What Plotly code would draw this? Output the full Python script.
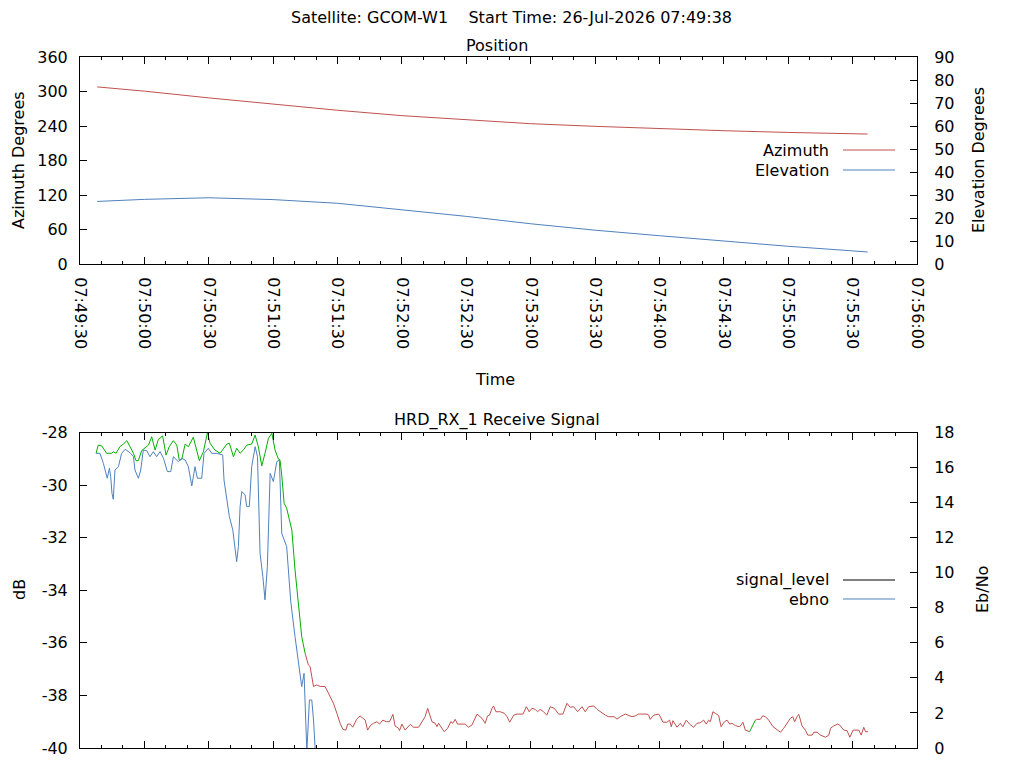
import pandas as pd
import plotly.graph_objects as go

# time axis origin (seconds below are counted from here)
AXIS_START = pd.Timestamp("2026-07-26 07:49:30")
AXIS_END = pd.Timestamp("2026-07-26 07:56:00")

# --- Position (azimuth / elevation) ---
pos_sec = [8, 30, 60, 90, 120, 150, 180, 210, 240, 270, 300, 330, 360, 367]
azimuth = [308.0, 300.6, 288.9, 277.9, 267.4, 258.0, 250.5, 244.0, 239.4, 235.3, 231.8, 228.8, 226.5, 226.0]
elevation = [27.2, 28.1, 28.8, 28.0, 26.4, 23.7, 20.7, 17.5, 14.7, 12.3, 9.9, 7.7, 5.7, 5.2]

# --- Receive signal level (dB) ---
sig_sec = [7.5, 8.5, 10.1, 12.4, 14.8, 15.5, 16.8, 18.6, 20.2, 21.8, 23.3, 24.9, 26.1, 27.2,
           28.7, 30.3, 31.9, 33.4, 35.0, 36.5, 38.5, 40.1, 41.6, 43.5, 45.1, 46.3, 47.4, 49.0,
           50.5, 52.8, 55.6, 57.5, 59.4, 60.6, 62.9, 65.3, 68.4, 69.6, 71.5, 73.0, 74.6, 76.1,
           77.7, 80.0, 81.6, 83.1, 84.7, 86.2, 87.8, 89.4, 90.9, 92.5, 93.2, 94.0, 95.1, 96.3,
           97.6, 98.7, 100.2, 101.8, 103.3, 104.9, 106.4, 107.2, 108.8, 110.3, 111.9, 114.2, 115.8,
           118.1, 119.7, 121.2, 122.5, 123.9, 124.7, 125.9, 127.1, 128.9, 130.5, 132.1, 132.9,
           134.0, 135.5, 136.8, 138.3, 139.6, 141.1, 142.7, 144.2, 145.8, 146.8, 148.4, 148.9,
           150.0, 151.5, 153.9, 155.4, 157.8, 159.3, 160.8, 162.0, 162.9, 164.0, 165.5, 166.3,
           167.1, 168.6, 169.7, 171.3, 172.8, 173.7, 174.8, 175.9, 177.5, 179.5, 181.0, 182.6,
           183.7, 185.0, 187.3, 188.8, 189.9, 190.8, 192.0, 192.7, 193.8, 195.8, 197.7, 199.0,
           200.2, 202.1, 203.6, 206.4, 208.0, 209.3, 210.6, 212.1, 213.2, 214.4, 216.0, 217.5,
           219.1, 221.0, 223.0, 225.0, 226.9, 228.4, 230.0, 231.9, 233.9, 235.4, 237.0, 239.4,
           240.9, 243.2, 244.8, 246.3, 247.9, 248.9, 250.2, 251.7, 254.1, 255.6, 257.2, 258.7,
           260.3, 264.2, 265.0, 265.7, 267.3, 269.6, 270.4, 271.6, 273.5, 274.7, 275.5, 276.3,
           277.4, 278.2, 279.7, 280.9, 282.5, 284.0, 285.9, 287.5, 289.0, 290.6, 291.8, 292.9,
           293.7, 294.9, 296.0, 297.6, 298.7, 300.3, 301.5, 302.7, 303.8, 305.4, 307.4, 308.9,
           310.0, 312.0, 313.1, 314.7, 315.2, 317.0, 318.1, 319.4, 320.9, 322.9, 324.8, 326.4,
           327.9, 329.5, 331.0, 332.1, 333.0, 334.1, 334.9, 335.7, 336.4, 338.0, 339.1, 341.1,
           341.9, 343.5, 345.0, 347.4, 348.9, 349.7, 351.2, 353.1, 354.0, 355.9, 357.4, 358.7,
           360.2, 362.9, 364.0, 365.2, 366.0, 367.2]
signal_db = [-28.79, -28.48, -28.51, -28.79, -28.79, -28.73, -28.79, -28.54, -28.44, -28.31, -28.54,
             -28.79, -29.07, -29.07, -28.69, -28.60, -28.48, -28.16, -28.67, -28.26, -28.13, -28.86,
             -28.54, -28.31, -28.48, -29.07, -29.02, -28.44, -28.54, -28.18, -29.07, -28.73, -28.00,
             -28.41, -28.67, -28.79, -28.44, -28.41, -28.92, -28.60, -28.79, -28.67, -28.48, -28.44,
             -28.10, -28.54, -29.27, -28.79, -28.22, -28.03, -28.67, -29.02, -29.05, -29.62, -30.69,
             -30.88, -31.39, -31.71, -33.23, -34.62, -35.76, -36.40, -36.84, -36.90, -37.66, -37.60,
             -37.66, -37.66, -37.92, -38.30, -38.68, -39.06, -39.29, -39.32, -39.09, -39.09, -39.21,
             -38.91, -38.78, -38.91, -38.94, -39.32, -39.13, -39.06, -39.00, -39.09, -38.94, -39.00,
             -39.00, -38.72, -39.16, -39.25, -39.34, -39.09, -39.32, -39.10, -39.21, -39.21, -39.00,
             -38.81, -38.49, -38.75, -39.00, -39.06, -39.19, -39.06, -39.25, -39.38, -39.25, -39.00,
             -39.06, -38.91, -39.09, -39.09, -39.09, -39.21, -39.13, -38.94, -38.71, -38.87, -39.06,
             -38.78, -38.75, -38.49, -38.40, -38.62, -38.62, -38.68, -38.81, -39.02, -38.75, -38.71,
             -38.71, -38.43, -38.62, -38.49, -38.53, -38.62, -38.53, -38.62, -38.75, -38.43, -38.49,
             -38.71, -38.71, -38.30, -38.45, -38.43, -38.62, -38.43, -38.62, -38.43, -38.40, -38.53,
             -38.68, -38.75, -38.81, -38.81, -38.81, -38.90, -38.81, -38.71, -38.75, -38.81, -38.78,
             -38.71, -38.71, -38.75, -38.91, -38.75, -38.71, -38.81, -39.02, -39.02, -38.94, -39.19,
             -38.96, -39.13, -39.21, -39.06, -39.19, -38.94, -39.09, -39.21, -39.06, -39.04, -38.94,
             -39.09, -38.94, -39.00, -38.62, -38.68, -38.77, -39.19, -39.00, -38.94, -39.09, -39.06,
             -39.15, -39.19, -39.02, -39.32, -39.38, -39.21, -38.94, -38.91, -38.91, -38.78, -38.81,
             -38.94, -39.19, -39.29, -39.40, -39.25, -39.04, -38.87, -38.81, -39.00, -38.81, -38.72,
             -38.94, -39.16, -39.32, -39.51, -39.51, -39.40, -39.40, -39.51, -39.59, -39.51, -39.25,
             -39.16, -39.09, -39.13, -39.32, -39.34, -39.59, -39.32, -39.32, -39.51, -39.21, -39.38,
             -39.38]
# periods where the receiver was locked (drawn green, otherwise red)
locked_spans = [(0, 105.5), (312.5, 315.0)]

# --- Eb/No ---
ebno_sec = [7.5, 9.3, 10.9, 11.8, 12.7, 13.7, 14.3, 14.9, 15.5, 16.3, 17.9, 19.4, 21.0, 23.3,
            24.9, 25.6, 27.2, 28.3, 29.5, 31.1, 32.6, 34.2, 35.7, 37.3, 38.9, 40.7, 42.3, 43.5,
            45.8, 47.4, 49.0, 50.5, 52.1, 53.6, 54.7, 56.7, 57.8, 59.8, 61.4, 63.7, 66.5, 67.1,
            68.4, 69.6, 71.2, 72.3, 73.0, 73.8, 74.6, 75.4, 76.9, 77.7, 78.9, 80.0, 81.6, 82.7,
            83.9, 85.2, 86.2, 87.3, 88.6, 90.1, 91.7, 92.9, 94.0, 96.3, 98.2, 100.2, 102.6, 103.3,
            104.4, 105.7, 106.9, 108.0, 108.8, 109.7, 111.0]
ebno = [16.81, 16.81, 16.24, 15.86, 15.39, 15.96, 15.48, 14.53, 14.19, 15.86, 16.05, 16.81, 17.04,
        16.85, 16.62, 15.86, 15.39, 15.86, 17.00, 16.96, 16.62, 16.91, 16.62, 16.91, 16.53, 15.77,
        15.77, 16.62, 16.34, 16.53, 16.43, 16.05, 14.95, 16.05, 15.39, 15.39, 16.81, 17.10, 16.81,
        16.81, 16.72, 15.29, 14.25, 13.20, 12.44, 11.11, 10.63, 11.49, 13.77, 14.63, 14.44, 13.77,
        13.77, 16.05, 17.19, 16.62, 11.11, 9.78, 8.45, 10.35, 15.67, 15.20, 16.34, 16.43, 12.25,
        11.49, 8.35, 6.35, 3.88, 3.50, 4.26, -0.20, 2.74, 2.74, 1.60, -0.30, -3.00]

# tick values for the value axes
az_ticks = [0, 60, 120, 180, 240, 300, 360]
el_ticks = [0, 10, 20, 30, 40, 50, 60, 70, 80, 90]
db_ticks = [-40, -38, -36, -34, -32, -30, -28]
ebno_ticks = [0, 2, 4, 6, 8, 10, 12, 14, 16, 18]

RED = "#c0504d"
BLUE = "#4f81bd"
GREEN = "#00b000"
FONT = dict(family="DejaVu Sans", size=16, color="black")
W, H = 1024, 768
PAGE_OFFSET = 8  # the page body margin shifts the figure by this much


def to_time(secs):
    return [AXIS_START + pd.Timedelta(seconds=s) for s in secs]


def is_locked(s):
    return any(a <= s <= b for a, b in locked_spans)


def px(x):
    return (x - PAGE_OFFSET) / W


def py(y):
    return 1 - (y - PAGE_OFFSET) / H


fig = go.Figure()

# top panel
fig.add_trace(go.Scatter(x=to_time(pos_sec), y=azimuth, mode="lines", line=dict(color=RED, width=1),
                         xaxis="x", yaxis="y", showlegend=False))
fig.add_trace(go.Scatter(x=to_time(pos_sec), y=elevation, mode="lines", line=dict(color=BLUE, width=1),
                         xaxis="x", yaxis="y2", showlegend=False))

# bottom panel: signal level split into runs by lock state
seg_colors = [GREEN if is_locked(sig_sec[i + 1]) else RED for i in range(len(sig_sec) - 1)]
start = 0
for i in range(1, len(seg_colors) + 1):
    if i == len(seg_colors) or seg_colors[i] != seg_colors[start]:
        fig.add_trace(go.Scatter(x=to_time(sig_sec[start:i + 1]), y=signal_db[start:i + 1], mode="lines",
                                 line=dict(color=seg_colors[start], width=1),
                                 xaxis="x2", yaxis="y3", showlegend=False))
        start = i
fig.add_trace(go.Scatter(x=to_time(ebno_sec), y=ebno, mode="lines", line=dict(color=BLUE, width=1),
                         xaxis="x2", yaxis="y4", showlegend=False))

xdom = [px(80), px(917)]
top_dom = [py(264), py(57)]
bot_dom = [py(748), py(432.5)]

time_axis = dict(type="date", range=[AXIS_START, AXIS_END], dtick=30000, tickformat="%H:%M:%S",
                 tickangle=90, ticks="inside", ticklen=7, tickcolor="black",
                 minor=dict(ticks="inside", ticklen=3, dtick=10000, tickcolor="black"),
                 showline=True, linecolor="black", linewidth=1, mirror="ticks", automargin=False,
                 showgrid=False, zeroline=False, tickfont=FONT, domain=xdom, ticklabelstandoff=9)


def val_axis(rng, ticks, dom, side="left", overlay=None):
    ax = dict(range=rng, tickmode="array", tickvals=ticks, ticktext=[str(v) for v in ticks],
              ticks="inside", ticklen=7, tickcolor="black", automargin=False,
              showline=True, linecolor="black", linewidth=1, showgrid=False, zeroline=False,
              tickfont=FONT, side=side, ticklabelstandoff=8 if side == "left" else 13)
    if overlay:
        ax["overlaying"] = overlay
        ax["anchor"] = "x" if overlay == "y" else "x2"
    else:
        ax["domain"] = dom
        ax["mirror"] = True
    return ax


fig.update_layout(
    width=W, height=H, margin=dict(l=0, r=0, t=0, b=0),
    paper_bgcolor="white", plot_bgcolor="white", font=FONT, showlegend=False,
    xaxis=dict(time_axis, anchor="y"),
    xaxis2=dict(time_axis, anchor="y3", showticklabels=False),
    yaxis=dict(val_axis([0, 360], az_ticks, top_dom), anchor="x"),
    yaxis2=val_axis([0, 90], el_ticks, top_dom, side="right", overlay="y"),
    yaxis3=dict(val_axis([-40, -28], db_ticks, bot_dom), anchor="x2"),
    yaxis4=val_axis([0, 18], ebno_ticks, bot_dom, side="right", overlay="y3"),
)

texts = [
    ("Satellite: GCOM-W1\u00a0\u00a0\u00a0\u00a0Start Time: 26-Jul-2026 07:49:38", 511, 17, 0),
    ("Position", 497, 46, 0),
    ("HRD_RX_1 Receive Signal", 497, 420, 0),
    ("Time", 495, 379, 0),
    ("Azimuth Degrees", 19, 160, -90),
    ("Elevation Degrees", 979, 160, -90),
    ("dB", 19, 590, -90),
    ("Eb/No", 982, 590, -90),
]
for t, x, y, ang in texts:
    fig.add_annotation(text=t, x=px(x), y=py(y), xref="paper", yref="paper", showarrow=False,
                       xanchor="center", yanchor="middle", textangle=ang, font=FONT)

# gnuplot-style keys: label on the left, line sample on the right
keys = [("Azimuth", RED, 150), ("Elevation", BLUE, 170), ("signal_level", "black", 580), ("ebno", BLUE, 599)]
for label, color, y in keys:
    fig.add_annotation(text=label, x=px(831), y=py(y), xref="paper", yref="paper", showarrow=False,
                       xanchor="right", yanchor="middle", font=FONT)
    fig.add_shape(type="line", x0=px(843), x1=px(895), y0=py(y), y1=py(y), xref="paper", yref="paper",
                  line=dict(color=color, width=1))

fig.write_html("out.html")
